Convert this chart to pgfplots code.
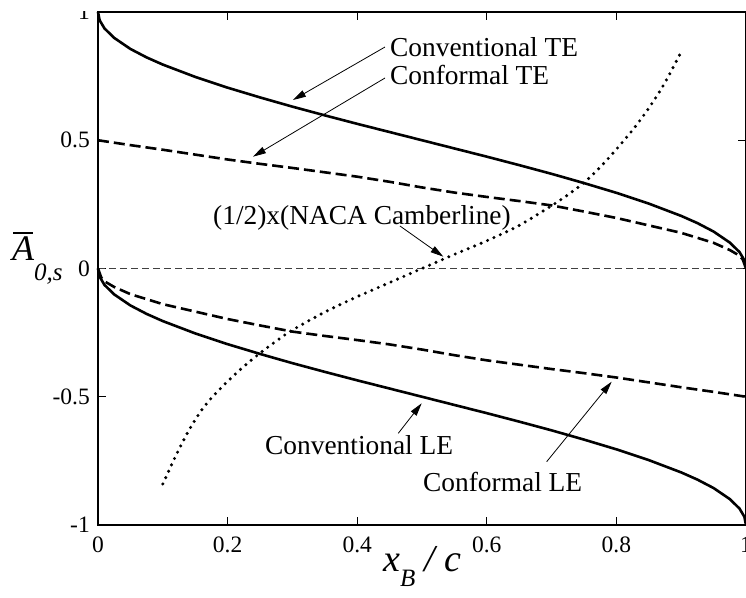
\documentclass[border=0pt]{standalone}
\usepackage{fontspec}
\setmainfont{Liberation Serif}
\usepackage{pgfplots}
\pgfplotsset{compat=1.18}
\usetikzlibrary{arrows.meta}
\newcommand{\annfont}{\fontsize{27.4}{32}\selectfont}
\begin{document}
\begin{tikzpicture}
\begin{axis}[name=ax, width=648pt, height=513pt, scale only axis,
  xmin=0, xmax=1, ymin=-1, ymax=1,
  axis line style={line width=1.3pt},
  xtick={0,0.2,0.4,0.6,0.8,1}, xticklabels={0,0.2,0.4,0.6,0.8,1},
  ytick={-1,-0.5,0,0.5,1}, yticklabels={-1,-0.5,0,0.5,1},
  tick align=inside, major tick length=8pt,
  tick style={line width=0.8pt, black},
  ticklabel style={font=\fontsize{23.5}{28}\selectfont, inner sep=0pt},
  xticklabel shift=12pt, yticklabel shift=8pt,
  clip=false]
\addplot[black!75, line width=0.8pt, dash pattern=on 7pt off 4pt] coordinates {(0,0) (1,0)};
% Conventional TE
\addplot[black, line width=2.6pt] coordinates {(0,1) (0.0025,0.968) (0.01,0.936) (0.025,0.899) (0.05,0.856) (0.075,0.823) (0.1,0.795) (0.15,0.747) (0.2,0.705) (0.25,0.667) (0.3,0.631) (0.35,0.597) (0.4,0.564) (0.45,0.532) (0.5,0.5) (0.55,0.468) (0.6,0.436) (0.65,0.403) (0.7,0.369) (0.75,0.333) (0.8,0.295) (0.85,0.253) (0.9,0.205) (0.925,0.177) (0.95,0.144) (0.975,0.101) (0.99,0.064) (0.9975,0.032) (1,0)};
% Conventional LE
\addplot[black, line width=2.6pt] coordinates {(0,0) (0.0025,-0.032) (0.01,-0.064) (0.025,-0.101) (0.05,-0.144) (0.075,-0.177) (0.1,-0.205) (0.15,-0.253) (0.2,-0.295) (0.25,-0.333) (0.3,-0.369) (0.35,-0.403) (0.4,-0.436) (0.45,-0.468) (0.5,-0.5) (0.55,-0.532) (0.6,-0.564) (0.65,-0.597) (0.7,-0.631) (0.75,-0.667) (0.8,-0.705) (0.85,-0.747) (0.9,-0.795) (0.925,-0.823) (0.95,-0.856) (0.975,-0.899) (0.99,-0.936) (0.9975,-0.968) (1,-1)};
% Conformal TE
\addplot[black, line width=2.6pt, dash pattern=on 11pt off 5pt] coordinates {(0,0.500) (0.05,0.481) (0.1,0.463) (0.15,0.444) (0.2,0.425) (0.25,0.408) (0.3,0.392) (0.35,0.375) (0.4,0.358) (0.45,0.338) (0.5,0.316) (0.55,0.296) (0.6,0.279) (0.65,0.263) (0.7,0.246) (0.75,0.222) (0.8,0.197) (0.85,0.168) (0.9,0.139) (0.95,0.100) (0.975,0.072) (0.99,0.05) (0.995,0.035) (1,0)};
% Conformal LE
\addplot[black, line width=2.6pt, dash pattern=on 11pt off 5pt] coordinates {(0,0) (0.005,-0.035) (0.01,-0.05) (0.025,-0.072) (0.05,-0.100) (0.1,-0.139) (0.15,-0.168) (0.2,-0.197) (0.25,-0.222) (0.3,-0.246) (0.35,-0.263) (0.4,-0.279) (0.45,-0.296) (0.5,-0.316) (0.55,-0.338) (0.6,-0.358) (0.65,-0.375) (0.7,-0.392) (0.75,-0.408) (0.8,-0.425) (0.85,-0.444) (0.9,-0.463) (0.95,-0.481) (1,-0.5)};
% (1/2)x NACA camberline
\addplot[black, line width=3.4pt, line cap=round, dash pattern=on 0pt off 7pt, smooth] coordinates {(0.100,-0.840) (0.110,-0.785) (0.120,-0.730) (0.130,-0.680) (0.140,-0.632) (0.150,-0.590) (0.160,-0.552) (0.175,-0.505) (0.200,-0.440) (0.225,-0.382) (0.250,-0.330) (0.275,-0.283) (0.300,-0.240) (0.350,-0.170) (0.400,-0.110) (0.450,-0.055) (0.500,0.000) (0.550,0.055) (0.600,0.108) (0.650,0.168) (0.700,0.245) (0.725,0.287) (0.750,0.335) (0.775,0.395) (0.800,0.465) (0.825,0.540) (0.850,0.625) (0.875,0.725) (0.900,0.845)};
% annotations
\node[anchor=base west, inner sep=0pt, font=\annfont] at (axis cs:0.4506,0.8246) {Conventional TE};
\draw[line width=0.8pt, -{Triangle[length=13pt,width=7pt]}] (axis cs:0.4429,0.8635) -- (axis cs:0.3009,0.6569);
\node[anchor=base west, inner sep=0pt, font=\annfont] at (axis cs:0.4506,0.7154) {Conformal TE};
\draw[line width=0.8pt, -{Triangle[length=13pt,width=7pt]}] (axis cs:0.4429,0.7427) -- (axis cs:0.2392,0.4359);
\node[anchor=base west, inner sep=0pt, font=\annfont] at (axis cs:0.1775,0.1696) {(1/2)x(NACA Camberline)};
\draw[line width=0.8pt, -{Triangle[length=13pt,width=7pt]}] (axis cs:0.466,0.1657) -- (axis cs:0.5329,0.046);
\node[anchor=base west, inner sep=0pt, font=\annfont] at (axis cs:0.2577,-0.7232) {Conventional LE};
\draw[line width=0.8pt, -{Triangle[length=13pt,width=7pt]}] (axis cs:0.4634,-0.6425) -- (axis cs:0.4995,-0.5255);
\node[anchor=base west, inner sep=0pt, font=\annfont] at (axis cs:0.5015,-0.8713) {Conformal LE};
\draw[line width=0.8pt, -{Triangle[length=13pt,width=7pt]}] (axis cs:0.6924,-0.7532) -- (axis cs:0.7927,-0.4413);
% y label
\node[anchor=base west, inner sep=0pt] at (axis cs:-0.1327,0.0331) {\fontsize{36}{36}\selectfont\itshape\makebox[0pt][l]{\hspace{0.03em}\raisebox{0.72em}{\rule{0.55em}{0.045em}}}A\raisebox{-20pt}{\fontsize{25}{25}\selectfont 0,s}};
% x label
\node[anchor=base west, inner sep=0pt] at (axis cs:0.4398,-1.1832) {\fontsize{38}{38}\selectfont\itshape x\raisebox{-15pt}{\fontsize{25}{25}\selectfont B}\ / c};
\end{axis}
\fill[white] ([xshift=-98pt,yshift=0.7pt]ax.north west) rectangle ([yshift=12pt]ax.north east);
\pgfresetboundingbox
\path ([xshift=-98pt,yshift=-72pt]ax.south west) rectangle ([yshift=12pt]ax.north east);
\end{tikzpicture}
\end{document}
